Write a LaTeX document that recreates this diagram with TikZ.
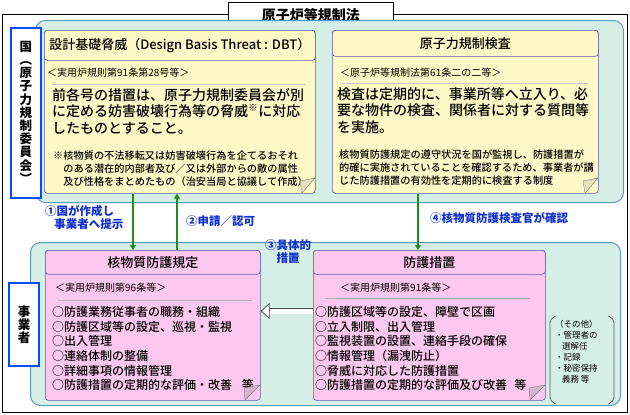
\documentclass[tikz,border=0pt]{standalone}
\usepackage{fontspec}
\setmainfont{Noto Sans CJK JP}
\newfontfamily\medfont{Noto Sans CJK JP Medium}
\usetikzlibrary{positioning,arrows.meta}
\definecolor{panel}{HTML}{D5EEE6}
\definecolor{panelline}{HTML}{5B9BB5}
\definecolor{paper}{HTML}{FFF9C8}
\definecolor{pinkpaper}{HTML}{FCC8F0}
\definecolor{arrowgreen}{HTML}{1E8C1E}
\definecolor{labelblue}{HTML}{1030D0}
\tikzset{
  panelbox/.style={draw=panelline, line width=1pt, fill=panel, rounded corners=10pt, anchor=north west, inner sep=0pt},
  sidebox/.style={draw=blue!70!cyan, line width=2pt, fill=white, anchor=north west, inner sep=0pt, align=center, font=\bfseries\fontsize{12.5}{13.2}\selectfont},
  paperbox/.style={draw=gray!70!blue, line width=0.6pt, rounded corners=3pt, anchor=north west, inner sep=0pt},
  headbox/.style={draw=gray!70!blue, line width=0.6pt, rounded corners=3pt, anchor=north west, inner sep=0pt, font=\medfont\fontsize{13}{15}\selectfont},
  bodytext/.style={anchor=north west, inner sep=0pt, align=left},
  flowlabel/.style={text=labelblue, font=\bfseries\fontsize{11.5}{13.5}\selectfont, align=left, inner sep=0pt},
  flow/.style={draw=arrowgreen, line width=1.6pt, -{Triangle[length=5pt,width=6pt]}}
}
\begin{document}
\begin{tikzpicture}[x=1pt,y=-1pt]
\useasboundingbox (0,0) rectangle (630,415);

% outer frame and title
\draw[line width=0.8pt] (2,14) rectangle (627,412);
\node[draw, line width=0.8pt, fill=white, minimum width=165pt, minimum height=25pt, anchor=north west, inner sep=0pt, font=\bfseries\fontsize{14}{16}\selectfont] (law) at (228,2) {原子炉等規制法};

% upper panel: the state
\node[panelbox, minimum width=588pt, minimum height=182pt] (upper) at (35,20) {};
\node[sidebox, minimum width=30pt, minimum height=170pt] (state) at (10,27)
  {国\\\rotatebox[origin=c]{-90}{（}\\原\\子\\力\\規\\制\\委\\員\\会\\\rotatebox[origin=c]{-90}{）}};

\node[paperbox, fill=paper, minimum width=271pt, minimum height=163pt] (dbt) at (44,30) {};
\node[headbox, fill=paper, minimum width=271pt, minimum height=30pt] (dbthead) at (44,30) {設計基礎脅威（Design Basis Threat : DBT）};
\draw[gray!40] (52,84) -- (306,84);
\node[bodytext, font=\fontsize{10}{12}\selectfont] (dbtref) at (47,68) {＜実用炉規則第91条第28号等＞};
\node[bodytext, font=\medfont\fontsize{14}{16.7}\selectfont] (dbtbody) at (52,88) {前各号の措置は、原子力規制委員会が別\\に定める妨害破壊行為等の脅威\textsuperscript{※}に対応\\したものとすること。};
\node[bodytext, font=\medfont\fontsize{10.2}{12.8}\selectfont] (dbtnote) at (53,151) {※核物質の不法移転又は妨害破壊行為を企てるおそれ\\\hspace*{1em}のある潜在的内部者及び／又は外部からの敵の属性\\\hspace*{1em}及び性格をまとめたもの（治安当局と協議して作成）};
\fill[paper!80!gray, draw=gray] (315,178) -- (302,193) -- (300,181) -- cycle;

\node[paperbox, fill=paper, minimum width=266pt, minimum height=163pt] (insp) at (332,30) {};
\node[headbox, fill=paper, minimum width=266pt, minimum height=26pt] (insphead) at (332,30) {原子力規制検査};
\draw[gray!40] (340,83) -- (588,83);
\node[bodytext, font=\fontsize{10}{12}\selectfont] (inspref) at (340,68) {＜原子炉等規制法第61条二の二等＞};
\node[bodytext, font=\medfont\fontsize{14}{16.7}\selectfont] (inspbody) at (337,87) {検査は定期的に、事業所等へ立入り、必\\要な物件の検査、関係者に対する質問等\\を実施。};
\node[bodytext, font=\medfont\fontsize{10.2}{12.8}\selectfont] (inspnote) at (339,150) {核物質防護規定の遵守状況を国が監視し、防護措置が\\的確に実施されていることを確認するため、事業者が講\\じた防護措置の有効性を定期的に検査する制度};
\fill[paper!80!gray, draw=gray] (598,178) -- (585,193) -- (583,181) -- cycle;

% lower panel: the operator
\node[panelbox, minimum width=590pt, minimum height=163pt] (lower) at (30,242) {};
\node[sidebox, minimum width=30pt, minimum height=83pt] (operator) at (8,282) {事\\業\\者};

\node[paperbox, fill=pinkpaper, minimum width=215pt, minimum height=150pt] (rules) at (45,250) {};
\node[headbox, fill=pinkpaper, minimum width=215pt, minimum height=24pt] (ruleshead) at (45,250) {核物質防護規定};
\node[bodytext, font=\fontsize{10}{12}\selectfont] (rulesref) at (55,283) {＜実用炉規則第96条等＞};
\draw[gray!60] (58,300) -- (252,300);
\node[bodytext, font=\medfont\fontsize{12}{14.7}\selectfont] (ruleslist) at (52,306) {○防護業務従事者の職務・組織\\○防護区域等の設定、巡視・監視\\○出入管理\\○連絡体制の整備\\○詳細事項の情報管理\\○防護措置の定期的な評価・改善\hspace{0.8em}等};
\fill[pinkpaper!70!gray, draw=gray] (260,385) -- (245,400) -- (244,388) -- cycle;

\node[paperbox, fill=pinkpaper, minimum width=232pt, minimum height=150pt] (measures) at (313,250) {};
\node[headbox, fill=pinkpaper, minimum width=232pt, minimum height=24pt] (measureshead) at (313,250) {防護措置};
\node[bodytext, font=\fontsize{10}{12}\selectfont] (measuresref) at (340,283) {＜実用炉規則第91条等＞};
\draw[gray!60] (325,298) -- (530,298);
\node[bodytext, font=\medfont\fontsize{12}{14.7}\selectfont] (measureslist) at (315,306) {○防護区域等の設定、障壁で区画\\○立入制限、出入管理\\○監視装置の設置、連絡手段の確保\\○情報管理（漏洩防止）\\○脅威に対応した防護措置\\○防護措置の定期的な評価及び改善\hspace{0.6em}等};
\fill[pinkpaper!70!gray, draw=gray] (545,385) -- (530,400) -- (529,388) -- cycle;

\node[bodytext, font=\fontsize{8.5}{11}\selectfont] (others) at (555,320) {（その他）\\・管理者の\\\hspace*{0.8em}選解任\\・記録\\・秘密保持\\\hspace*{0.8em}義務 等};
\draw[gray!70!black, line width=0.7pt, rounded corners=5pt] (556,316) -- (550,318) -- (550,402) -- (556,404);
\draw[gray!70!black, line width=0.7pt, rounded corners=5pt] (608,316) -- (614,318) -- (614,402) -- (608,404);

% connectors
\coordinate (a1) at (133,0);
\coordinate (a2) at (177,0);
\coordinate (a4) at (418,0);
\draw[flow] (dbt.south -| a1) -- (rules.north -| a1);
\draw[flow] (rules.north -| a2) -- (dbt.south -| a2);
\draw[flow] (insp.south -| a4) -- (measures.north -| a4);
\node[flowlabel, anchor=north west] (l1) at (45,205) {①国が作成し\\\hspace*{0.8em}事業者へ提示};
\node[flowlabel, anchor=west] (l2) at (186,221) {②申請／認可};
\node[flowlabel, anchor=west] (l4) at (430,218) {④核物質防護検査官が確認};
\node[flowlabel, anchor=north, align=center] (l3) at (288,239) {③具体的\\措置};
\draw[double=white, double distance=5pt, line width=0.8pt, gray!60!black, -{Triangle[open, length=9pt, width=16pt, fill=white]}] (measures.west |- 0,311) -- (rules.east |- 0,311);
\end{tikzpicture}
\end{document}
